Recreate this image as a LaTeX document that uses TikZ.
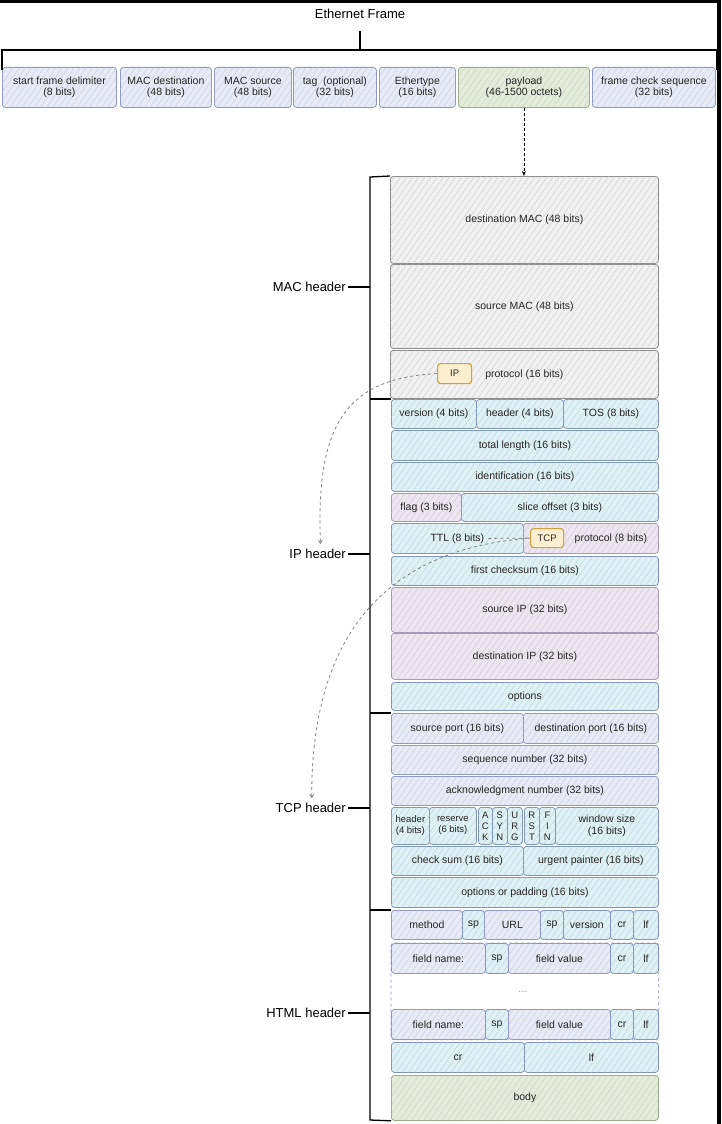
\documentclass[tikz,border=0pt]{standalone}
\usepackage{fontspec}
\setmainfont{Liberation Sans}
\usetikzlibrary{positioning,arrows.meta,fit,patterns.meta}
\definecolor{txt}{HTML}{262626}
\definecolor{lavfill}{HTML}{E8EBF5}
\definecolor{lavline}{HTML}{8F98C0}
\definecolor{lavhatch}{HTML}{C2C8E2}
\definecolor{cyfill}{HTML}{DFF1F5}
\definecolor{cyline}{HTML}{7E94B8}
\definecolor{cyhatch}{HTML}{B2D2DC}
\definecolor{pufill}{HTML}{EDE6F0}
\definecolor{puline}{HTML}{A497B6}
\definecolor{puhatch}{HTML}{CCC1D8}
\definecolor{grfill}{HTML}{F1F1F1}
\definecolor{grline}{HTML}{8A8A8A}
\definecolor{grhatch}{HTML}{CACACA}
\definecolor{gnfill}{HTML}{E4EBDA}
\definecolor{gnline}{HTML}{9BAA8A}
\definecolor{gnhatch}{HTML}{C4D1B4}
\definecolor{orfill}{HTML}{FBEFD0}
\definecolor{orline}{HTML}{D4A044}

\begin{document}
\begin{tikzpicture}[x=1pt, y=-1pt,
  hatch/.style={pattern={Lines[angle=55,distance=5pt,line width=0.35pt]}},
  cell/.style={rounded corners=3pt, line width=0.8pt, anchor=north west, inner sep=1pt,
    align=center, text=txt, font=\fontsize{10.5}{11.5}\selectfont},
  wh/.style 2 args={minimum width=#1, minimum height=#2},
  lav/.style={cell, draw=lavline, fill=lavfill, postaction={pattern color=lavhatch, hatch}},
  cy/.style={cell, draw=cyline, fill=cyfill, postaction={pattern color=cyhatch, hatch}},
  pur/.style={cell, draw=puline, fill=pufill, postaction={pattern color=puhatch, hatch}},
  gry/.style={cell, draw=grline, fill=grfill, postaction={pattern color=grhatch, hatch}},
  grn/.style={cell, draw=gnline, fill=gnfill, postaction={pattern color=gnhatch, hatch}},
  tagbox/.style={cell, draw=orline, fill=orfill, line width=1.2pt, font=\fontsize{9.5}{10}\selectfont},
  flagc/.style={cy, font=\fontsize{9.5}{11}\selectfont},
  hlab/.style={anchor=east, inner sep=2pt, text=black, font=\fontsize{13}{15}\selectfont},
  brk/.style={line width=1.3pt, black},
  link/.style={densely dashed, line width=0.8pt, -{Stealth[length=5pt,width=4pt]}},
  curv/.style={dashed, gray, line width=0.8pt, -{Straight Barb[length=3pt,width=4pt]}, shorten >=3pt}]
\useasboundingbox (0,0) rectangle (721,1124);
\fill[black] (0,0) rectangle (721,3);
\fill[black] (717,0) rectangle (721,1124);
% ethernet frame
\node[font=\fontsize{13}{15}\selectfont] (title) at (360,14) {Ethernet Frame};
\foreach \x/\w/\n/\t in {2/114/sfd/{start frame delimiter\\(8 bits)},
    120/91/macd/{MAC destination\\(48 bits)}, 214/77/macs/{MAC source\\(48 bits)},
    293/83/tag/{tag\ \ (optional)\\(32 bits)}, 379/76/etype/{Ethertype\\(16 bits)},
    592/123/fcs/{frame check sequence\\(32 bits)}}
  \node[lav, wh={\w}{40}] (\n) at (\x,67) {\t};
\node[grn, wh={131}{40}] (payload) at (458,67) {payload\\(46-1500 octets)};
\coordinate (fl) at (2,70);
\coordinate (fr) at (717,70);
\coordinate (fm) at (360,50);
\coordinate (ft) at (360,31);
\draw[brk] (fl) |- (fm) -| (fr);
\draw[brk] (fm) -- (ft);
% MAC header
\node[gry, wh={268}{87}] (dmac) at (390,176) {destination MAC (48 bits)};
\node[gry, wh={268}{84}] (smac) at (390,264) {source MAC (48 bits)};
\node[gry, wh={268}{48}] (mproto) at (390,350) {protocol (16 bits)};
\node[tagbox, wh={34}{20}] (iptag) at (437,363) {IP};
\draw[link] (payload.south) -- (payload.south |- dmac.north);
% IP header
\node[cy, wh={85}{29}] (ver) at (391,399) {version (4 bits)};
\node[cy, wh={87}{29}] (hdr) at (476,399) {header (4 bits)};
\node[cy, wh={95}{29}] (tos) at (563,399) {TOS (8 bits)};
\node[cy, wh={267}{30}] (tlen) at (391,430) {total length (16 bits)};
\node[cy, wh={267}{29}] (ident) at (391,462) {identification (16 bits)};
\node[pur, wh={70}{28}] (flag) at (391,493) {flag (3 bits)};
\node[cy, wh={197}{28}] (slice) at (461,493) {slice offset (3 bits)};
\node[cy, wh={132}{30}] (ttl) at (391,523) {TTL (8 bits)};
\node[pur, wh={135}{30}] (tproto) at (523,523) {\hspace*{40pt}protocol (8 bits)};
\node[tagbox, wh={33}{19}] (tcptag) at (530,528) {TCP};
\node[cy, wh={267}{29}] (fcsum) at (391,556) {first checksum (16 bits)};
\node[pur, wh={267}{45}] (sip) at (391,587) {source IP (32 bits)};
\node[pur, wh={267}{46}] (dip) at (391,633) {destination IP (32 bits)};
\node[cy, wh={267}{28}] (opts) at (391,682) {options};
% TCP header
\node[lav, wh={132}{30}] (sport) at (391,713) {source port (16 bits)};
\node[lav, wh={135}{30}] (dport) at (523,713) {destination port (16 bits)};
\node[lav, wh={267}{29}] (seq) at (391,745) {sequence number (32 bits)};
\node[lav, wh={267}{29}] (ack) at (391,776) {acknowledgment number (32 bits)};
\node[flagc, wh={38}{37}] (thdr) at (391,807) {header\\(4 bits)};
\node[flagc, wh={47}{37}] (resv) at (429,807) {reserve\\(6 bits)};
\node[flagc, wh={14}{37}] (fack) at (478,807) {A\\C\\K};
\node[flagc, wh={15}{37}] (fsyn) at (492,807) {S\\Y\\N};
\node[flagc, wh={15}{37}] (furg) at (507,807) {U\\R\\G};
\node[flagc, wh={15}{37}] (frst) at (524,807) {R\\S\\T};
\node[flagc, wh={16}{37}] (ffin) at (539,807) {F\\I\\N};
\node[cy, wh={103}{37}] (win) at (555,807) {window size\\(16 bits)};
\node[cy, wh={132}{29}] (csum) at (391,846) {check sum (16 bits)};
\node[cy, wh={135}{29}] (urg) at (523,846) {urgent painter (16 bits)};
\node[cy, wh={267}{30}] (opad) at (391,877) {options or padding (16 bits)};
% HTML header
\node[lav, wh={71}{29}] (meth) at (391,910) {method};
\node[cy, wh={22}{29}] (sp1) at (462,910) {sp};
\node[lav, wh={56}{29}] (url) at (484,910) {URL};
\node[cy, wh={23}{29}] (sp2) at (540,910) {sp};
\node[cy, wh={47}{29}] (hver) at (563,910) {version};
\node[cy, wh={23}{29}] (cr1) at (610,910) {cr};
\node[cy, wh={25}{29}] (lf1) at (633,910) {lf};
\foreach \y/\i in {943/2, 1009/3} {
  \node[lav, wh={94}{30}] (fn\i) at (391,\y) {field name:};
  \node[cy, wh={23}{30}] (fsp\i) at (485,\y) {sp};
  \node[lav, wh={102}{30}] (fv\i) at (508,\y) {field value};
  \node[cy, wh={23}{30}] (cr\i) at (610,\y) {cr};
  \node[cy, wh={25}{30}] (lf\i) at (633,\y) {lf};
}
\node[draw=lavline, dashed, rounded corners=3pt, line width=0.8pt, inner sep=0pt,
  fit=(fn2)(lf3)] (fields) {};
\node[text=gray, font=\fontsize{8}{9}\selectfont] (dots) at (523,992) {....};
\node[cy, wh={133}{30}] (cr4) at (391,1042) {cr};
\node[cy, wh={134}{30}] (lf4) at (524,1042) {lf};
\node[grn, wh={267}{45}] (body) at (391,1075) {body};
% brackets and labels
\coordinate (bt) at (370,177);
\coordinate (bb) at (370,1120);
\draw[brk] (dmac.north west) -- (bt) -- (bb) -- (body.south west);
\foreach \n in {ver, sport, meth}
  \draw[brk] (\n.north west -| bt) -- (\n.north west);
\node[hlab] (lmac) at (348,287) {MAC header};
\node[hlab] (lip) at (348,554) {IP header};
\node[hlab] (ltcp) at (348,808) {TCP header};
\node[hlab] (lhtml) at (348,1013) {HTML header};
\foreach \n in {lmac, lip, ltcp, lhtml}
  \draw[brk] (\n.east) -- (\n.east -| bt);
% protocol hints
\coordinate (ttlend) at ([xshift=31pt]ttl.center);
\draw[curv] (iptag.west) .. controls (342,378) and (316,430) .. ([xshift=3pt]lip.north);
\draw[curv] (tcptag.west) .. controls (400,548) and (311,620) .. ([xshift=1pt]ltcp.north);
\draw[curv, -] (ttlend) -- (tcptag.west);
\end{tikzpicture}
\end{document}
